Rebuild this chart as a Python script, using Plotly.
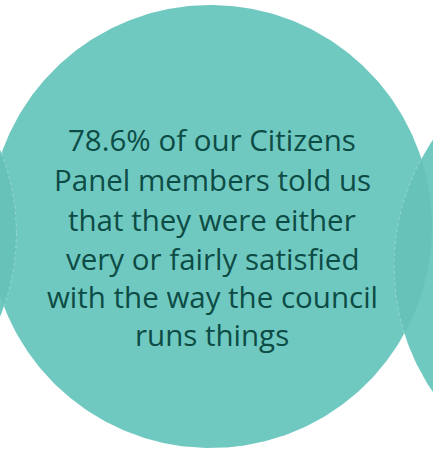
import numpy as np
import plotly.graph_objects as go

# Content
value_pct = 78.6
text_lines = [
    f"{value_pct}% of our Citizens",
    "Panel members told us",
    "that they were either",
    "very or fairly satisfied",
    "with the way the council",
    "runs things",
]

W, H = 433, 454
FILL = "#70C9C0"
LENS = "#67C3BA"
EDGE = "rgba(255,255,255,0.35)"
TEXT = "#0D4C45"

main_c = (210.5, 226.5, 221.5)
left_c = (-205.0, 233.0, 221.5)
right_c = (618.0, 266.0, 224.0)


def circle_pts(cx, cy, r, n=400):
    t = np.linspace(0, 2 * np.pi, n)
    return cx + r * np.cos(t), cy + r * np.sin(t)


def lens_pts(a, b):
    xa, ya = circle_pts(*a, n=2000)
    xb, yb = circle_pts(*b, n=2000)
    ina = (xb - a[0]) ** 2 + (yb - a[1]) ** 2 <= a[2] ** 2
    inb = (xa - b[0]) ** 2 + (ya - b[1]) ** 2 <= b[2] ** 2
    px = np.concatenate([xa[inb], xb[ina]])
    py = np.concatenate([ya[inb], yb[ina]])
    mx, my = px.mean(), py.mean()
    order = np.argsort(np.arctan2(py - my, px - mx))
    return px[order], py[order]


fig = go.Figure()

for c in (left_c, right_c, main_c):
    x, y = circle_pts(*c)
    fig.add_trace(go.Scatter(x=x, y=y, fill="toself", fillcolor=FILL, mode="lines",
                             line=dict(width=0, color=FILL), hoverinfo="skip", showlegend=False))

for c in (left_c, right_c):
    x, y = lens_pts(main_c, c)
    fig.add_trace(go.Scatter(x=x, y=y, fill="toself", fillcolor=LENS, mode="lines",
                             line=dict(width=0, color=LENS), hoverinfo="skip", showlegend=False))
    xc, yc = circle_pts(*c, n=2000)
    inside = (xc - main_c[0]) ** 2 + (yc - main_c[1]) ** 2 <= main_c[2] ** 2
    xs = np.where(inside, xc, np.nan)
    ys = np.where(inside, yc, np.nan)
    fig.add_trace(go.Scatter(x=xs, y=ys, mode="lines", line=dict(width=0.8, color=EDGE, dash="dot"),
                             hoverinfo="skip", showlegend=False, connectgaps=False))

baselines = [148, 188, 228, 267, 305, 343]
for line, b in zip(text_lines, baselines):
    fig.add_annotation(x=212, y=b, text=line, showarrow=False, xanchor="center", yanchor="bottom",
                       yshift=-13.5,
                       font=dict(family="Open Sans", size=29.5, color=TEXT))

fig.update_layout(
    width=W, height=H, margin=dict(l=0, r=0, t=0, b=0),
    paper_bgcolor="white", plot_bgcolor="white",
    xaxis=dict(range=[0, W], visible=False, fixedrange=True),
    yaxis=dict(range=[H, 0], visible=False, fixedrange=True),
    showlegend=False,
)
fig.write_html("out.html", config={"displayModeBar": False},
               post_script="document.body.style.margin='0';document.body.style.overflow='hidden';")
